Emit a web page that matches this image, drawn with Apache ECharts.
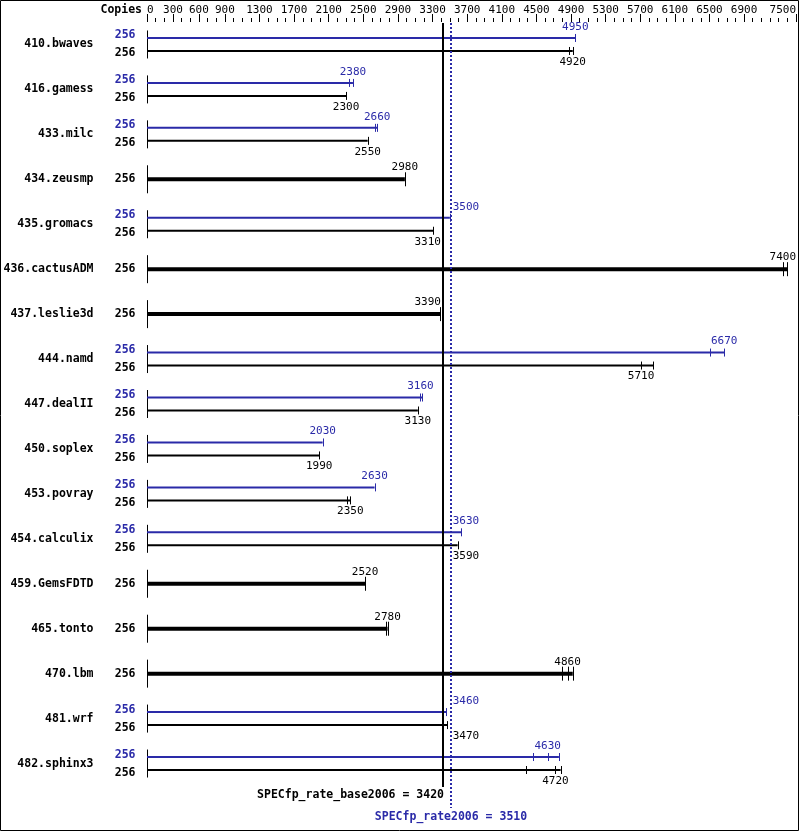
<!DOCTYPE html>
<html>
<head>
<meta charset="utf-8">
<script src="https://cdn.jsdelivr.net/npm/echarts@6.0.0/dist/echarts.min.js"></script>
<style>
  html, body { margin: 0; padding: 0; background: #fff; }
  #main { width: 799px; height: 831px; }
</style>
</head>
<body>
<div id="main"></div>
<script>
// benchmark rows, top to bottom
var benchmarks = ['410.bwaves', '416.gamess', '433.milc', '434.zeusmp', '435.gromacs', '436.cactusADM',
  '437.leslie3d', '444.namd', '447.dealII', '450.soplex', '453.povray', '454.calculix', '459.GemsFDTD',
  '465.tonto', '470.lbm', '481.wrf', '482.sphinx3'];
var baseCopies = [256, 256, 256, 256, 256, 256, 256, 256, 256, 256, 256, 256, 256, 256, 256, 256, 256];
var peakCopies = [256, 256, 256, null, 256, null, null, 256, 256, 256, 256, 256, null, null, null, 256, 256];
// median ratios (null peak = same as base, drawn as one thick bar)
var baseRatio = [4920, 2300, 2550, 2980, 3310, 7400, 3390, 5710, 3130, 1990, 2350, 3590, 2520, 2780, 4860, 3470, 4720];
var peakRatio = [4950, 2380, 2660, null, 3500, null, null, 6670, 3160, 2030, 2630, 3630, null, null, null, 3460, 4630];
// individual run results (small ticks on the bar)
var baseRuns = [[4880, 4920], [2300], [2550], [2980], [3310], [7350, 7400], [3390], [5710, 5850], [3130],
  [1990], [2310, 2350], [3590], [2520], [2760, 2780], [4800, 4860, 4920], [3470], [4380, 4720, 4780]];
var peakRuns = [[4950], [2340, 2380], [2640, 2660], null, [3500], null, null, [6510, 6670], [3160, 3180],
  [2030], [2630], [3630], null, null, null, [3460], [4460, 4630, 4760]];
var baseScore = 3420;
var peakScore = 3510;
var axisLabels = [0, 300, 600, 900, 1300, 1700, 2100, 2500, 2900, 3300, 3700, 4100, 4500, 4900, 5300, 5700, 6100, 6500, 6900, 7500];

var BLUE = '#2a2aa8';
var FONT = 'DejaVu Sans Mono';

var chart = echarts.init(document.getElementById('main'));

function txt(x, y, s, color, align, bold) {
  return {
    type: 'text',
    style: {
      x: x, y: y, text: s, fill: color, align: align, verticalAlign: 'middle',
      font: bold ? 'bold 11.5px "' + FONT + '"' : '11px "' + FONT + '"'
    }
  };
}

function barParts(api, i, y, ratio, runs, color, width, tickH, labelDy, out, lines) {
  var x0 = api.coord([0, i])[0];
  var xEnd = api.coord([Math.max.apply(null, runs), i])[0];
  out.push({ type: 'line', shape: { x1: x0, y1: y, x2: xEnd, y2: y }, style: { stroke: color, lineWidth: width } });
  runs.forEach(function (r) {
    var xr = Math.round(api.coord([r, i])[0]) + 0.5;
    out.push({ type: 'line', shape: { x1: xr, y1: y - tickH, x2: xr, y2: y + tickH }, style: { stroke: color, lineWidth: 1 } });
  });
  // value label, kept clear of the two score lines and the right edge
  var lx = api.coord([ratio, i])[0];
  var align = 'center';
  if (lx + 13 > lines.xb - 2 && lx - 13 < lines.xp + 2) {
    if (lx < lines.xb) { align = 'right'; lx = lines.xb - 2; }
    else { align = 'left'; lx = lines.xp + 2; }
  } else if (lx + 13 > lines.right) {
    align = 'right'; lx = lines.right;
  }
  out.push(txt(lx, y + labelDy, String(ratio), color, align, false));
}

function renderRow(params, api) {
  var i = api.value(1);
  var c = api.coord([0, i]);
  var x0 = Math.round(c[0]) + 0.5, yc = c[1];
  var lines = {
    xb: api.coord([baseScore, i])[0],
    xp: api.coord([peakScore, i])[0],
    right: api.coord([7500, i])[0]
  };
  var out = [];
  out.push({ type: 'line', shape: { x1: x0, y1: yc - 14, x2: x0, y2: yc + 14 }, style: { stroke: '#000', lineWidth: 1 } });
  out.push(txt(x0 - 54, yc, benchmarks[i], '#000', 'right', true));
  if (peakRatio[i] == null) {
    out.push(txt(x0 - 12, yc, String(baseCopies[i]), '#000', 'right', true));
    barParts(api, i, yc, baseRatio[i], baseRuns[i], '#000', 4, 7, -12, out, lines);
  } else {
    out.push(txt(x0 - 12, yc - 9, String(peakCopies[i]), BLUE, 'right', true));
    out.push(txt(x0 - 12, yc + 9, String(baseCopies[i]), '#000', 'right', true));
    barParts(api, i, yc - 6.5, peakRatio[i], peakRuns[i], BLUE, 2, 4, -11, out, lines);
    barParts(api, i, yc + 6.5, baseRatio[i], baseRuns[i], '#000', 2, 4, 11, out, lines);
  }
  return { type: 'group', children: out };
}

function renderScores(params, api) {
  var xb = Math.round(api.coord([baseScore, 0])[0]);
  var xp = Math.round(api.coord([peakScore, 0])[0]);
  var top = api.coord([0, -0.5])[1] + 1;
  var bottom = api.coord([0, 16.5])[1];
  return {
    type: 'group',
    children: [
      { type: 'line', shape: { x1: xb, y1: top, x2: xb, y2: bottom + 1 }, style: { stroke: '#000', lineWidth: 2 } },
      { type: 'line', shape: { x1: xp, y1: top, x2: xp, y2: bottom + 22 }, style: { stroke: BLUE, lineWidth: 2, lineDash: [2, 2] } },
      txt(xb + 1, bottom + 9, 'SPECfp_rate_base2006 = ' + baseScore, '#000', 'right', true),
      txt(xp, bottom + 31, 'SPECfp_rate2006 = ' + peakScore, BLUE, 'center', true)
    ]
  };
}

chart.setOption({
  animation: false,
  backgroundColor: '#fff',
  grid: { left: 147, right: 3, top: 22, bottom: 45 },
  xAxis: [
    {
      // labels at the printed values, long ticks under them
      type: 'value', position: 'top', min: 0, max: 7500,
      axisLine: { show: false, onZero: false }, splitLine: { show: false },
      axisTick: { show: true, customValues: axisLabels, length: 8, lineStyle: { color: '#000', width: 1 } },
      axisLabel: {
        customValues: axisLabels, color: '#000', fontFamily: FONT, fontSize: 11, margin: 6,
        alignMinLabel: 'left', alignMaxLabel: 'right',
        formatter: function (v) { return String(v); }
      }
    },
    {
      // small ticks every 100
      type: 'value', position: 'top', min: 0, max: 7500, interval: 100,
      axisLine: { show: false, onZero: false }, splitLine: { show: false },
      axisTick: { show: true, length: 4, lineStyle: { color: '#000', width: 1 } },
      axisLabel: { show: false }
    }
  ],
  yAxis: { type: 'value', inverse: true, min: -0.5, max: 16.5, show: false },
  graphic: [
    { type: 'rect', shape: { x: 0.5, y: 0.5, width: 798, height: 830 }, style: { fill: 'none', stroke: '#000', lineWidth: 1 }, silent: true },
    { type: 'text', style: { x: 142, y: 10, text: 'Copies', align: 'right', verticalAlign: 'middle', fill: '#000', font: 'bold 11.5px "' + FONT + '"' } }
  ],
  series: [
    {
      type: 'custom', xAxisIndex: 0, yAxisIndex: 0,
      data: benchmarks.map(function (b, i) { return [0, i]; }),
      renderItem: renderRow
    },
    {
      type: 'custom', xAxisIndex: 0, yAxisIndex: 0,
      data: [[baseScore, 0]],
      renderItem: renderScores,
      z: 3
    }
  ]
});
</script>
</body>
</html>
